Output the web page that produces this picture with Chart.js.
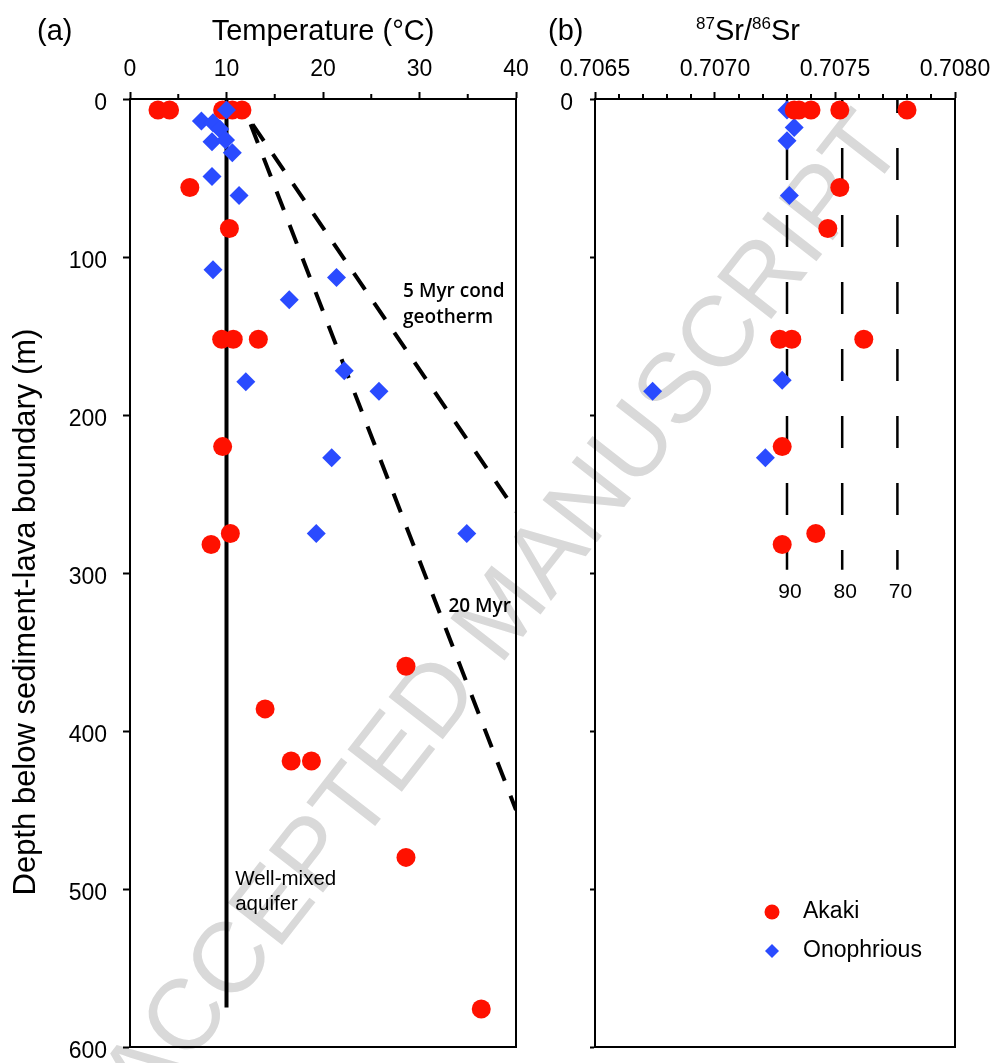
<!DOCTYPE html>
<html>
<head>
<meta charset="utf-8">
<script src="https://cdn.jsdelivr.net/npm/chart.js@4.4.0/dist/chart.umd.min.js"></script>
<style>
  body { margin: 0; background: #fff; }
  #wrap { position: relative; width: 990px; height: 1063px; }
  canvas { position: absolute; top: 0; }
</style>
</head>
<body>
<div id="wrap">
  <canvas id="mark" width="990" height="1063" style="left:0"></canvas>
  <canvas id="chartTemp" width="545" height="1063" style="left:0"></canvas>
  <canvas id="chartSr" width="450" height="1063" style="left:540px"></canvas>
</div>
<script>
// panel (a): temperature vs depth
var akakiTemp      = [2.9, 4.1, 9.6, 10.6, 11.6, 6.2, 10.3, 9.5, 10.7, 13.3, 9.6, 10.4, 8.4, 28.6, 14.0, 16.7, 18.8, 28.6, 36.4];
var akakiTempDepth = [7, 7, 7, 7, 7, 56, 82, 152, 152, 152, 220, 275, 282, 359, 386, 419, 419, 480, 576];
var onoTemp        = [10.0, 7.4, 8.6, 9.3, 8.5, 9.9, 10.6, 8.5, 11.3, 8.6, 21.4, 16.5, 22.2, 12.0, 25.8, 20.9, 19.3, 34.9];
var onoTempDepth   = [7, 14, 15, 19, 27, 26, 34, 49, 61, 108, 113, 127, 172, 179, 185, 227, 275, 275];
var mixedTemp  = [10, 10];
var mixedDepth = [0, 575];
var geo5Temp   = [12.7, 40];
var geo5Depth  = [16, 261];
var geo20Temp  = [12.5, 40];
var geo20Depth = [16, 450];

// panel (b): 87Sr/86Sr vs depth
var akakiSr      = [0.70733, 0.70735, 0.70740, 0.70752, 0.70780, 0.70752, 0.70747, 0.70727, 0.70732, 0.70762, 0.70728, 0.70742, 0.70728];
var akakiSrDepth = [7, 7, 7, 7, 7, 56, 82, 152, 152, 152, 220, 275, 282];
var onoSr        = [0.70730, 0.70733, 0.70730, 0.70731, 0.70728, 0.70674, 0.70721];
var onoSrDepth   = [7, 18, 26.5, 61, 178, 185, 227];
var mixSr        = [0.7073, 0.70753, 0.70776];
var mixLabels    = ['90', '80', '70'];
var mixDepthEnd  = 298;

var RED = '#ff1100';
var BLUE = '#2a4bff';
var FONT = "'Liberation Sans', Arial, sans-serif";

Chart.defaults.font.family = FONT;
Chart.defaults.color = '#000';

function pts(xs, ys) {
    return xs.map(function (x, i) { return {x: x, y: ys[i]}; });
}

// fixed axis sizes, no extra room for overhanging labels
function fitX(s) {
    s.height = 99;
    s.paddingLeft = s.paddingRight = s.paddingTop = s.paddingBottom = 0;
}
function fitY(w) {
    return function (s) {
        s.width = w;
        s.paddingLeft = s.paddingRight = s.paddingTop = s.paddingBottom = 0;
    };
}

function boxAndMinor(chart, minorVals) {
    var ctx = chart.ctx, a = chart.chartArea, sx = chart.scales.x;
    ctx.save();
    ctx.strokeStyle = '#000';
    ctx.lineWidth = 2;
    ctx.beginPath();
    ctx.moveTo(a.right, a.top - 1);
    ctx.lineTo(a.right, a.bottom);
    ctx.lineTo(a.left - 1, a.bottom);
    ctx.stroke();
    ctx.beginPath();
    minorVals.forEach(function (v) {
        var px = sx.getPixelForValue(v);
        ctx.moveTo(px, a.top);
        ctx.lineTo(px, a.top - 5);
    });
    ctx.stroke();
    ctx.restore();
}

var tempExtras = {
    id: 'tempExtras',
    afterDraw: function (chart) {
        var ctx = chart.ctx, sx = chart.scales.x, sy = chart.scales.y;
        boxAndMinor(chart, [5, 15, 25, 35]);
        ctx.save();
        ctx.fillStyle = '#000';
        ctx.textBaseline = 'alphabetic';
        ctx.font = '29px ' + FONT;
        ctx.textAlign = 'left';
        ctx.fillText('(a)', 37, 40);
        ctx.textAlign = 'center';
        ctx.fillText('Temperature (\u00b0C)', (chart.chartArea.left + chart.chartArea.right) / 2, 40);

        ctx.save();
        ctx.translate(35, 612);
        ctx.rotate(-Math.PI / 2);
        ctx.font = '31px ' + FONT;
        ctx.fillText('Depth below sediment-lava boundary (m)', 0, 0);
        ctx.restore();

        ctx.textAlign = 'left';
        ctx.textBaseline = 'middle';
        ctx.font = '600 19px "Open Sans", sans-serif';
        ctx.fillText('5 Myr cond', sx.getPixelForValue(28.3), sy.getPixelForValue(122));
        ctx.fillText('geotherm', sx.getPixelForValue(28.3), sy.getPixelForValue(138.5));
        ctx.fillText('20 Myr', sx.getPixelForValue(33.0), sy.getPixelForValue(321.5));

        ctx.font = '20.5px ' + FONT;
        ctx.fillText('Well-mixed', sx.getPixelForValue(10.9), sy.getPixelForValue(494));
        ctx.fillText('aquifer', sx.getPixelForValue(10.9), sy.getPixelForValue(510));
        ctx.restore();
    }
};

var srExtras = {
    id: 'srExtras',
    afterDraw: function (chart) {
        var ctx = chart.ctx, sx = chart.scales.x, sy = chart.scales.y;
        var minor = [];
        for (var i = 1; i < 15; i++) {
            if (i % 5) minor.push(0.7065 + i * 0.0001);
        }
        boxAndMinor(chart, minor);
        ctx.save();
        ctx.fillStyle = '#000';
        ctx.textBaseline = 'alphabetic';
        ctx.font = '29px ' + FONT;
        ctx.textAlign = 'left';
        ctx.fillText('(b)', 8, 40);

        // 87Sr/86Sr title with superscripts
        var x = 156;
        var parts = [['87', true], ['Sr/', false], ['86', true], ['Sr', false]];
        parts.forEach(function (p) {
            ctx.font = (p[1] ? '17px ' : '29px ') + FONT;
            ctx.fillText(p[0], x, p[1] ? 28.5 : 40);
            x += ctx.measureText(p[0]).width;
        });

        // labels under the dashed lines
        ctx.font = '21px ' + FONT;
        ctx.textAlign = 'center';
        ctx.textBaseline = 'middle';
        mixSr.forEach(function (v, i) {
            ctx.fillText(mixLabels[i], sx.getPixelForValue(v) + 3, sy.getPixelForValue(312));
        });

        // legend
        var ds = chart.data.datasets;
        ctx.fillStyle = RED;
        ctx.beginPath();
        ctx.arc(232, 912, 7.5, 0, Math.PI * 2);
        ctx.fill();
        ctx.fillStyle = BLUE;
        ctx.beginPath();
        ctx.moveTo(232, 944);
        ctx.lineTo(239, 951);
        ctx.lineTo(232, 958);
        ctx.lineTo(225, 951);
        ctx.closePath();
        ctx.fill();
        ctx.fillStyle = '#000';
        ctx.textAlign = 'left';
        ctx.font = '23px ' + FONT;
        ctx.fillText(ds[0].label, 263, 912);
        ctx.fillText(ds[1].label, 263, 951);
        ctx.restore();
    }
};

var axisGrid = {drawOnChartArea: false, tickLength: 7, tickWidth: 2, tickColor: '#000'};
var axisBorder = {color: '#000', width: 2};

var ctxA = document.getElementById('chartTemp').getContext('2d');
var chartA = new Chart(ctxA, {
    type: 'scatter',
    data: {
        datasets: [{
            label: 'Onophrious',
            data: pts(onoTemp, onoTempDepth),
            pointStyle: 'rectRot',
            pointRadius: 9.5,
            pointBackgroundColor: BLUE,
            pointBorderWidth: 0,
            order: 0
        }, {
            label: 'Akaki',
            data: pts(akakiTemp, akakiTempDepth),
            pointStyle: 'circle',
            pointRadius: 9.5,
            pointBackgroundColor: RED,
            pointBorderWidth: 0,
            order: 1
        }, {
            label: 'Well-mixed aquifer',
            data: pts(mixedTemp, mixedDepth),
            showLine: true,
            pointRadius: 0,
            borderColor: '#000',
            borderWidth: 4,
            order: 2
        }, {
            label: '5 Myr cond geotherm',
            data: pts(geo5Temp, geo5Depth),
            showLine: true,
            pointRadius: 0,
            borderColor: '#000',
            borderWidth: 4,
            borderDash: [20, 16],
            order: 2
        }, {
            label: '20 Myr',
            data: pts(geo20Temp, geo20Depth),
            showLine: true,
            pointRadius: 0,
            borderColor: '#000',
            borderWidth: 4,
            borderDash: [20, 16],
            order: 2
        }]
    },
    options: {
        responsive: false,
        animation: false,
        layout: {padding: {left: 0, top: 0, right: 29, bottom: 16}},
        plugins: {legend: {display: false}, tooltip: {enabled: false}},
        scales: {
            x: {
                type: 'linear', position: 'top', min: 0, max: 40,
                ticks: {stepSize: 10, padding: 9, maxRotation: 0, font: {size: 23}, color: '#000'},
                grid: axisGrid,
                border: axisBorder,
                afterFit: fitX
            },
            y: {
                type: 'linear', reverse: true, min: 0, max: 600,
                ticks: {stepSize: 100, padding: 16, labelOffset: 5, font: {size: 23}, color: '#000'},
                grid: axisGrid,
                border: axisBorder,
                afterFit: fitY(130)
            }
        }
    },
    plugins: [tempExtras]
});

var srLines = mixSr.map(function (v) {
    return {
        label: 'mix ' + v,
        data: pts([v, v], [0, mixDepthEnd]),
        showLine: true,
        pointRadius: 0,
        borderColor: '#000',
        borderWidth: 2.5,
        borderDash: [32, 35],
        borderDashOffset: 18,
        order: 2
    };
});

var ctxB = document.getElementById('chartSr').getContext('2d');
var chartB = new Chart(ctxB, {
    type: 'scatter',
    data: {
        datasets: [{
            label: 'Akaki',
            data: pts(akakiSr, akakiSrDepth),
            pointStyle: 'circle',
            pointRadius: 9.5,
            pointBackgroundColor: RED,
            pointBorderWidth: 0,
            order: 0
        }, {
            label: 'Onophrious',
            data: pts(onoSr, onoSrDepth),
            pointStyle: 'rectRot',
            pointRadius: 9.5,
            pointBackgroundColor: BLUE,
            pointBorderWidth: 0,
            order: 1
        }].concat(srLines)
    },
    options: {
        responsive: false,
        animation: false,
        layout: {padding: {left: 0, top: 0, right: 35, bottom: 16}},
        plugins: {legend: {display: false}, tooltip: {enabled: false}},
        scales: {
            x: {
                type: 'linear', position: 'top', min: 0.7065, max: 0.7080,
                ticks: {
                    stepSize: 0.0005, padding: 9, maxRotation: 0, font: {size: 23}, color: '#000',
                    callback: function (v) { return Number(v).toFixed(4); }
                },
                grid: axisGrid,
                border: axisBorder,
                afterFit: fitX
            },
            y: {
                type: 'linear', reverse: true, min: 0, max: 600,
                ticks: {
                    stepSize: 100, padding: 17, labelOffset: 5, font: {size: 23}, color: '#000',
                    callback: function (v) { return v === 0 ? '0' : ''; }
                },
                grid: {drawOnChartArea: false, tickLength: 5, tickWidth: 2, tickColor: '#000'},
                border: axisBorder,
                afterFit: fitY(55)
            }
        }
    },
    plugins: [srExtras]
});

// grey watermark behind both panels
var mc = document.getElementById('mark').getContext('2d');
mc.save();
mc.translate(505, 615);
mc.rotate(-52 * Math.PI / 180);
mc.font = '100px ' + FONT;
mc.fillStyle = '#d9d9d9';
mc.textAlign = 'center';
mc.textBaseline = 'middle';
mc.fillText('ACCEPTED MANUSCRIPT', 0, 0);
mc.restore();
</script>
</body>
</html>
